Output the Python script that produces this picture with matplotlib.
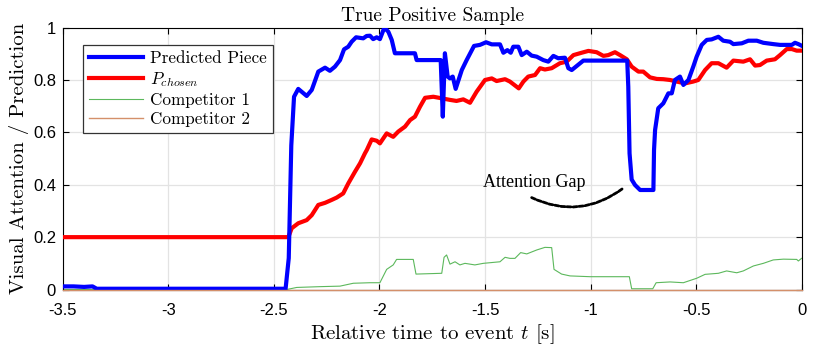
# -*- coding: utf-8 -*-
# true_positive_sample.py

import numpy as np
import matplotlib
matplotlib.use("Agg")
import matplotlib.pyplot as plt

plt.rcParams['mathtext.fontset'] = 'cm'
plt.rcParams['axes.unicode_minus'] = False

# Predicted piece (blue)
blue_t = [-3.5, -3.45, -3.40, -3.36, -3.34, -2.445, -2.43, -2.418, -2.405,
          -2.385, -2.345, -2.321, -2.29, -2.258, -2.235, -2.211, -2.187, -2.168,
          -2.148, -2.132, -2.111, -2.077, -2.061, -2.045, -2.03, -2.013, -1.998,
          -1.977, -1.958, -1.942, -1.927, -1.832, -1.824, -1.71, -1.700, -1.690,
          -1.677, -1.666, -1.653, -1.639, -1.61, -1.587, -1.552, -1.524, -1.495,
          -1.468, -1.429, -1.413, -1.394, -1.378, -1.366, -1.342, -1.326, -1.302,
          -1.279, -1.255, -1.224, -1.2, -1.176, -1.153, -1.121, -1.105, -1.089,
          -1.034, -0.826, -0.821, -0.815, -0.805, -0.789, -0.765, -0.702, -0.699,
          -0.694, -0.679, -0.655, -0.631, -0.615, -0.6, -0.576, -0.56, -0.536,
          -0.513, -0.497, -0.473, -0.449, -0.426, -0.394, -0.371, -0.339, -0.323,
          -0.283, -0.252, -0.212, -0.181, -0.134, -0.102, -0.046, -0.031, -0.015, 0.0]
blue_v = [0.012, 0.012, 0.010, 0.012, 0.003, 0.003, 0.12, 0.55, 0.736,
          0.766, 0.739, 0.762, 0.832, 0.847, 0.835, 0.851, 0.876, 0.917,
          0.927, 0.946, 0.963, 0.959, 0.968, 0.969, 0.956, 0.963, 0.956,
          1.0, 0.984, 0.953, 0.902, 0.902, 0.876, 0.876, 0.66, 0.902,
          0.813, 0.806, 0.813, 0.766, 0.838, 0.876, 0.93, 0.934, 0.944,
          0.936, 0.936, 0.904, 0.914, 0.904, 0.927, 0.927, 0.895, 0.908,
          0.893, 0.889, 0.876, 0.870, 0.892, 0.883, 0.885, 0.845, 0.838,
          0.874, 0.874, 0.774, 0.52, 0.42, 0.399, 0.38, 0.38, 0.533,
          0.609, 0.692, 0.711, 0.749, 0.749, 0.80, 0.813, 0.781, 0.80,
          0.851, 0.889, 0.934, 0.953, 0.955, 0.965, 0.95, 0.946, 0.937,
          0.94, 0.95, 0.95, 0.942, 0.937, 0.934, 0.934, 0.942, 0.937, 0.931]

# P_chosen (red)
red_t = [-3.5, -2.432, -2.416, -2.385, -2.345, -2.321, -2.29, -2.258, -2.227,
         -2.203, -2.172, -2.148, -2.116, -2.092, -2.069, -2.06, -2.037, -2.013,
         -1.998, -1.966, -1.935, -1.911, -1.879, -1.855, -1.832, -1.808, -1.784,
         -1.745, -1.705, -1.666, -1.635, -1.603, -1.571, -1.54, -1.5, -1.468,
         -1.445, -1.405, -1.382, -1.34, -1.318, -1.295, -1.263, -1.239, -1.216,
         -1.184, -1.145, -1.113, -1.081, -1.042, -1.01, -0.971, -0.939, -0.916,
         -0.884, -0.86, -0.828, -0.805, -0.773, -0.75, -0.718, -0.686, -0.655,
         -0.623, -0.592, -0.552, -0.513, -0.489, -0.457, -0.426, -0.394, -0.355,
         -0.323, -0.276, -0.244, -0.22, -0.197, -0.165, -0.126, -0.102, -0.07,
         -0.046, -0.023, 0.0]
red_v = [0.2, 0.2, 0.234, 0.253, 0.265, 0.284, 0.323, 0.331, 0.342,
         0.351, 0.367, 0.405, 0.45, 0.482, 0.52, 0.533, 0.573, 0.568,
         0.558, 0.596, 0.583, 0.603, 0.622, 0.647, 0.66, 0.698, 0.732,
         0.736, 0.73, 0.724, 0.72, 0.726, 0.713, 0.755, 0.80, 0.806,
         0.796, 0.803, 0.794, 0.768, 0.794, 0.813, 0.819, 0.845, 0.84,
         0.845, 0.864, 0.87, 0.895, 0.904, 0.911, 0.906, 0.892, 0.895,
         0.906, 0.895, 0.879, 0.851, 0.832, 0.832, 0.81, 0.804, 0.803,
         0.80, 0.794, 0.787, 0.794, 0.80, 0.838, 0.864, 0.864, 0.847,
         0.874, 0.87, 0.879, 0.855, 0.857, 0.874, 0.879, 0.895, 0.918,
         0.918, 0.912, 0.912]

# Competitor 1 (green)
comp1_t = [-3.5, -2.44, -2.392, -2.282, -2.187, -2.124, -2.045, -1.998, -1.966,
           -1.935, -1.919, -1.84, -1.827, -1.705, -1.694, -1.682, -1.666, -1.642,
           -1.619, -1.595, -1.548, -1.508, -1.429, -1.405, -1.382, -1.358, -1.331,
           -1.302, -1.255, -1.216, -1.184, -1.173, -1.137, -1.097, -1.002, -0.816,
           -0.805, -0.705, -0.689, -0.623, -0.56, -0.497, -0.457, -0.394, -0.355,
           -0.307, -0.276, -0.228, -0.181, -0.134, -0.086, -0.023, -0.015, 0.0]
comp1_v = [0.0, 0.0, 0.008, 0.011, 0.013, 0.024, 0.026, 0.026, 0.077,
           0.094, 0.115, 0.115, 0.059, 0.062, 0.123, 0.132, 0.097, 0.106,
           0.094, 0.10, 0.094, 0.10, 0.106, 0.123, 0.119, 0.119, 0.141,
           0.136, 0.151, 0.161, 0.16, 0.077, 0.059, 0.052, 0.049, 0.049,
           0.003, 0.003, 0.026, 0.029, 0.026, 0.043, 0.058, 0.062, 0.071,
           0.064, 0.071, 0.09, 0.10, 0.113, 0.116, 0.115, 0.109, 0.119]

# Competitor 2 (stays at zero)
comp2_t = [-3.5, 0.0]
comp2_v = [0.0, 0.0]

x_ticks = [-3.5, -3, -2.5, -2, -1.5, -1, -0.5, 0]
x_tick_labels = ['-3.5', '-3', '-2.5', '-2', '-1.5', '-1', '-0.5', '0']
y_ticks = [0, 0.2, 0.4, 0.6, 0.8, 1]
y_tick_labels = ['0', '0.2', '0.4', '0.6', '0.8', '1']

# annotation: text anchor and arc end points (data units)
gap_text_xy = (-1.511, 0.407)
gap_arc_start = (-1.279, 0.351)
gap_arc_end = (-0.845, 0.387)

serif = 'cmr10'
tick_font = 'Liberation Sans'

fig = plt.figure(figsize=(8.22, 3.48), dpi=100)
ax = fig.add_axes([0.0766, 0.168, 0.8985, 0.7527])

ax.plot(blue_t, blue_v, color='#0000ff', linewidth=3.0, label='Predicted Piece', zorder=4)
ax.plot(red_t, red_v, color='#ff0000', linewidth=3.0, label='$P_{chosen}$', zorder=3)
ax.plot(comp1_t, comp1_v, color='#5cb85c', linewidth=0.8, label='Competitor 1', zorder=2)
ax.plot(comp2_t, comp2_v, color='#d4906a', linewidth=1.0, label='Competitor 2',
        zorder=5, clip_on=False)

ax.set_xlim(-3.5, 0)
ax.set_ylim(0, 1)
ax.set_xticks(x_ticks)
ax.set_xticklabels(x_tick_labels, fontfamily=tick_font, fontsize=12)
ax.set_yticks(y_ticks)
ax.set_yticklabels(y_tick_labels, fontfamily=tick_font, fontsize=12)
ax.tick_params(direction='in', length=4, width=0.8, top=True, right=True,
               colors='black')
ax.tick_params(axis='x', pad=10)
ax.tick_params(axis='y', pad=5)
ax.grid(True, color='#e3e3e3', linewidth=0.9)
ax.set_axisbelow(True)
for sp in ax.spines.values():
    sp.set_linewidth(0.8)

ax.set_title('True Positive Sample', fontfamily=serif, fontsize=14, pad=5)
ax.set_xlabel('Relative time to event $t$ [s]', fontfamily=serif, fontsize=15, labelpad=3)
ax.set_ylabel('Visual Attention / Prediction', fontfamily=serif, fontsize=15, labelpad=3)

ax.text(gap_text_xy[0], gap_text_xy[1], 'Attention Gap', fontfamily='Liberation Serif',
        fontsize=13, ha='left', va='center')
ax.annotate('', xy=gap_arc_end, xytext=gap_arc_start,
            arrowprops=dict(arrowstyle='-', connectionstyle='arc3,rad=0.3',
                            color='black', linewidth=2.0, linestyle=(0, (1.5, 0.7)),
                            shrinkA=0, shrinkB=0))

leg = ax.legend(loc='upper left', bbox_to_anchor=(0.0267, 0.9336), borderaxespad=0,
                prop={'family': serif, 'size': 12.3}, handlelength=3.2,
                labelspacing=0.22, fancybox=False, framealpha=1,
                edgecolor='#333333', borderpad=0.35, handletextpad=0.4)
leg.get_frame().set_linewidth(0.9)

fig.savefig('out.png', dpi=100)
